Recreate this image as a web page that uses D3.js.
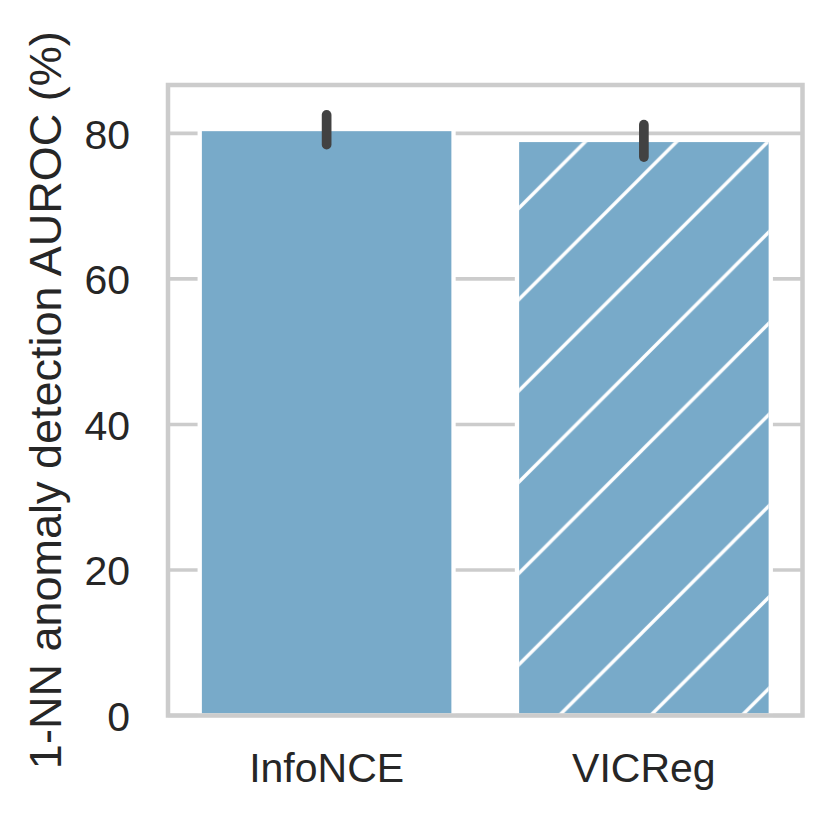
<!DOCTYPE html>
<html>
<head>
<meta charset="utf-8">
<script src="https://cdn.jsdelivr.net/npm/d3@7"></script>
<style>
	html, body { margin: 0; padding: 0; background: #fff; }
	svg { display: block; }
	text { font-family: "Liberation Sans", Arial, sans-serif; fill: #262626; }
</style>
</head>
<body>
<div id="chart"></div>
<script>

// data
var methods = ["InfoNCE", "VICReg"];
var auroc = [80.6, 79.1];
var ciLow = [78.45, 76.75];
var ciHigh = [82.55, 81.2];
var hatched = [false, true];
var yTicks = [0, 20, 40, 60, 80];
var yLabel = "1-NN anomaly detection AUROC (%)";

var W = 830, H = 818;
var margin = { top: 85, right: 27.5, bottom: 102.5, left: 168 };
var width = W - margin.left - margin.right;
var height = H - margin.top - margin.bottom;

var barColor = "#78aac9";
var gridColor = "#cccccc";
var hatchStep = 91.3;

var svg = d3.select("#chart").append("svg")
	.attr("width", W)
	.attr("height", H);

// hatch pattern, "/" lines in white like matplotlib's edgecolor hatch
var defs = svg.append("defs");
var pat = defs.append("pattern")
	.attr("id", "hatch")
	.attr("patternUnits", "userSpaceOnUse")
	.attr("width", hatchStep)
	.attr("height", hatchStep)
	.attr("x", ((727 - margin.left - margin.top) % hatchStep + hatchStep) % hatchStep)
	.attr("y", 0);
pat.append("path")
	.attr("d", "M0," + hatchStep + "L" + hatchStep + ",0" +
		"M-3,3L3,-3" +
		"M" + (hatchStep - 3) + "," + (hatchStep + 3) + "L" + (hatchStep + 3) + "," + (hatchStep - 3))
	.attr("stroke", "#fff")
	.attr("stroke-width", 3.4);

var g = svg.append("g")
	.attr("transform", "translate(" + margin.left + "," + margin.top + ")");

var x = d3.scaleBand()
	.domain(methods)
	.range([0, width])
	.paddingInner(0.2)
	.paddingOuter(0.1);

var y = d3.scaleLinear()
	.domain([0, 86.65])
	.range([height, 0]);

// horizontal grid
g.append("g").selectAll("line")
	.data(yTicks)
	.enter().append("line")
	.attr("x1", 0)
	.attr("x2", width)
	.attr("y1", function(d) { return y(d); })
	.attr("y2", function(d) { return y(d); })
	.attr("stroke", gridColor)
	.attr("stroke-width", 3.6);

var rows = methods.map(function(m, i) {
	return { name: m, value: auroc[i], lo: ciLow[i], hi: ciHigh[i], hatch: hatched[i] };
});

// bars
g.append("g").selectAll("rect")
	.data(rows)
	.enter().append("rect")
	.attr("x", function(d) { return x(d.name); })
	.attr("y", function(d) { return y(d.value); })
	.attr("width", x.bandwidth())
	.attr("height", function(d) { return y(0) - y(d.value); })
	.attr("fill", barColor)
	.attr("stroke", "#fff")
	.attr("stroke-width", 4.3);

// hatch overlay (inset so it stays inside the white edge)
g.append("g").selectAll("rect")
	.data(rows.filter(function(d) { return d.hatch; }))
	.enter().append("rect")
	.attr("x", function(d) { return x(d.name) + 2.15; })
	.attr("y", function(d) { return y(d.value) + 2.15; })
	.attr("width", x.bandwidth() - 4.3)
	.attr("height", function(d) { return y(0) - y(d.value) - 2.15; })
	.attr("fill", "url(#hatch)");

// error bars
g.append("g").selectAll("line")
	.data(rows)
	.enter().append("line")
	.attr("x1", function(d) { return x(d.name) + x.bandwidth() / 2; })
	.attr("x2", function(d) { return x(d.name) + x.bandwidth() / 2; })
	.attr("y1", function(d) { return y(d.lo); })
	.attr("y2", function(d) { return y(d.hi); })
	.attr("stroke", "#424242")
	.attr("stroke-width", 9.7)
	.attr("stroke-linecap", "round");

// frame
g.append("rect")
	.attr("x", 0)
	.attr("y", 0)
	.attr("width", width)
	.attr("height", height)
	.attr("fill", "none")
	.attr("stroke", gridColor)
	.attr("stroke-width", 4.5);

// y tick labels
g.append("g").selectAll("text")
	.data(yTicks)
	.enter().append("text")
	.attr("x", 130 - margin.left)
	.attr("y", function(d) { return y(d) + 15.2; })
	.attr("text-anchor", "end")
	.style("font-size", "41px")
	.text(function(d) { return d; });

// x tick labels
g.append("g").selectAll("text")
	.data(methods)
	.enter().append("text")
	.attr("x", function(d) { return x(d) + x.bandwidth() / 2; })
	.attr("y", 781.5 - margin.top)
	.attr("text-anchor", "middle")
	.style("font-size", "41px")
	.text(function(d) { return d; });

// y axis label
g.append("text")
	.attr("transform", "translate(" + (61 - margin.left) + "," + (height / 2) + ") rotate(-90)")
	.attr("text-anchor", "middle")
	.style("font-size", "45px")
	.text(yLabel);

</script>
</body>
</html>
